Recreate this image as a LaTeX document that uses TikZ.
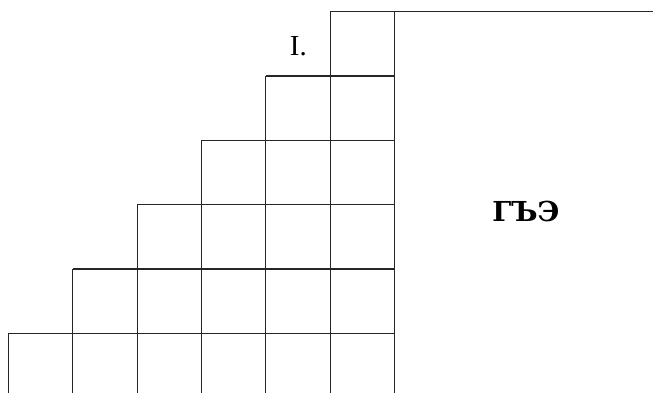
\documentclass[tikz,border=0pt]{standalone}
\usepackage{fontspec}
\setmainfont{DejaVu Serif}
\newfontfamily\timesfont{Liberation Serif}
\begin{document}
\begin{tikzpicture}[x=1pt,y=-1pt, gridline/.style={line width=1.3pt, draw=black!85}]
\useasboundingbox (0,0) rectangle (653,393);
\def\u{64.33}
% vertical lines of the staircase
\foreach \i in {0,...,5} {
  \draw[gridline] ({8.5+\i*\u},{11.7+(5-\i)*\u}) -- ({8.5+\i*\u},393);
}
\draw[gridline] ({8.5+6*\u},11.7) -- ({8.5+6*\u},393);
% horizontal lines
\foreach \j in {1,...,5} {
  \draw[gridline] ({8.5+(5-\j)*\u},{11.7+\j*\u}) -- ({8.5+6*\u},{11.7+\j*\u});
}
\draw[gridline] ({8.5+5*\u},11.7) -- (653,11.7);
\node[anchor=base, inner sep=0, font=\timesfont\fontsize{29}{29}\selectfont] (lbl) at (298.3,56) {I.};
\node[anchor=base, inner sep=0, font=\bfseries\fontsize{27.5}{27.5}\selectfont] (title) at (526,221) {ГЪЭ};
\end{tikzpicture}
\end{document}
